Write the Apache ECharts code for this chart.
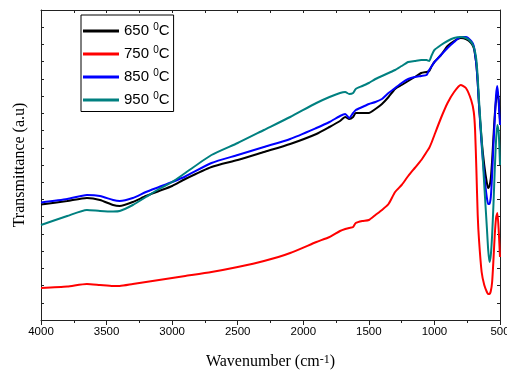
<!DOCTYPE html>
<html>
<head>
<meta charset="utf-8">
<script src="https://cdn.jsdelivr.net/npm/echarts@6/dist/echarts.min.js"></script>
<style>html,body{margin:0;padding:0;background:#fff;}#c{width:507px;height:376px;}</style>
</head>
<body>
<div id="c"></div>
<script>
// Wavenumber grid (cm-1)
const wavenumbers = [4000,3800,3650,3550,3450,3400,3300,3200,3100,3000,2900,2700,2500,2300,2100,1900,1800,1720,1680,1650,1620,1600,1550,1500,1450,1400,1350,1300,1250,1200,1150,1100,1060,1040,1020,1000,950,900,850,800,760,720,700,690,680,670,660,640,620,600,590,580,570,560,550,540,530,520,510,500];
const temps = ['650','750','850','950'];
// Transmittance (a.u.)
const t650 = [115.5,119,122,120,115,114,118,124,129,134,141,153,160,168,176,186,193,199,203,201,203,207,207,207,211,216,223,231,235,239,243,247,248,249,254,258,265,274,279,282,281,277,272,265,255,238,215,180,155,137,132,134,142,160,183,205,220,228,220,200];
const t750 = [32,33.5,36,35,34,34,36,38,40,42,44,48,53,59,67,78,83,89,91,92,93,97,99,100,105,110,116,128,135,144,152,160,168,172,178,185,202,217,228,235,232,220,208,190,150,105,80,48,35,28,26,26,29,38,60,85,102,107,90,63];
const t850 = [117.5,121,125,124,120,119,122,128,133,138,143.5,157,165,173,181,192,198,204,206,202,207,210,213,216,218,221,227,232,237,241,243,244,245,250,254,258,265,272,278,283,283,279,274,266,255,237,215,175,145,122,116,116,123,145,175,200,225,234,218,195];
const t950 = [95,104,110,109,108.5,109,115,123,131,138,147,165,177,190,203,217,223,227,228,226,227,231,234,237,241,244,247,250,254,258,259,260,260,259,265,270,275,279,282,283,282,278,273,268,260,243,220,180,135,92,70,58,65,85,115,150,180,195,188,155];
const colors = ['#000000','#ff0000','#0000ff','#008080'];
const allVals = [t650,t750,t850,t950];

const chart = echarts.init(document.getElementById('c'), null, {renderer:'canvas'});
const axisCol = '#222';
const series = temps.map((t,k)=>({
  name: t,
  type: 'line',
  data: wavenumbers.map((w,i)=>[w, allVals[k][i]]),
  showSymbol: false,
  smooth: 0.2,
  lineStyle: {color: colors[k], width: 2},
  itemStyle: {color: colors[k]},
  z: 2 + k
}));
chart.setOption({
  animation: false,
  backgroundColor: '#fff',
  grid: {left: 41, right: 7, top: 10, bottom: 56, containLabel: false, outerBoundsMode: 'none'},
  legend: {
    orient: 'vertical', left: 81, top: 15,
    padding: [7,4,4,2],
    borderColor: '#000', borderWidth: 1,
    itemWidth: 36, itemHeight: 3, itemGap: 6.5,
    icon: 'rect',
    data: temps,
    formatter: n => '{a|' + n + ' }{s|0}{a|C}',
    textStyle: {
      rich: {
        a: {fontSize: 15, fontFamily: 'Liberation Sans', color: '#000', lineHeight: 18},
        s: {fontSize: 10, fontFamily: 'Liberation Sans', color: '#000', verticalAlign: 'top', lineHeight: 8}
      }
    }
  },
  xAxis: [{
    type: 'value', min: 500, max: 4000, interval: 500, inverse: true, position: 'bottom',
    axisLine: {show: true, onZero: false, lineStyle: {color: axisCol, width: 1}},
    axisTick: {show: true, inside: false, length: 5, lineStyle: {color: axisCol}},
    minorTick: {show: true, splitNumber: 2, length: 3, lineStyle: {color: axisCol}},
    splitLine: {show: false},
    axisLabel: {fontSize: 11.5, fontFamily: 'Liberation Sans', color: '#000', margin: 6, formatter: v => String(v)},
    name: 'Wavenumber (cm{s|-1})',
    nameLocation: 'middle', nameGap: 34,
    nameTextStyle: {
      fontSize: 16, fontFamily: 'Liberation Serif', color: '#000',
      rich: {s: {fontSize: 12, fontFamily: 'Liberation Serif', color: '#000', verticalAlign: 'top', lineHeight: 8}}
    }
  }, {
    type: 'value', min: 500, max: 4000, interval: 500, inverse: true, position: 'top',
    axisLine: {show: true, onZero: false, lineStyle: {color: axisCol, width: 1}},
    axisTick: {show: true, inside: true, length: 3, lineStyle: {color: axisCol}},
    minorTick: {show: true, splitNumber: 2, length: 3, lineStyle: {color: axisCol}},
    splitLine: {show: false},
    axisLabel: {show: false}
  }],
  yAxis: [{
    type: 'value', min: 0, max: 310, interval: 310/18, position: 'left',
    axisLine: {show: true, onZero: false, lineStyle: {color: axisCol, width: 1}},
    axisTick: {show: true, inside: true, length: 3, lineStyle: {color: axisCol}},
    splitLine: {show: false},
    axisLabel: {show: false},
    name: 'Transmittance (a.u)',
    nameLocation: 'middle', nameGap: 13,
    nameTextStyle: {fontSize: 16, fontFamily: 'Liberation Serif', color: '#000'}
  }, {
    type: 'value', min: 0, max: 310, interval: 310/18, position: 'right',
    axisLine: {show: true, onZero: false, lineStyle: {color: axisCol, width: 1}},
    axisTick: {show: true, inside: true, length: 3, lineStyle: {color: axisCol}},
    splitLine: {show: false},
    axisLabel: {show: false}
  }],
  series: series
});
</script>
</body>
</html>
